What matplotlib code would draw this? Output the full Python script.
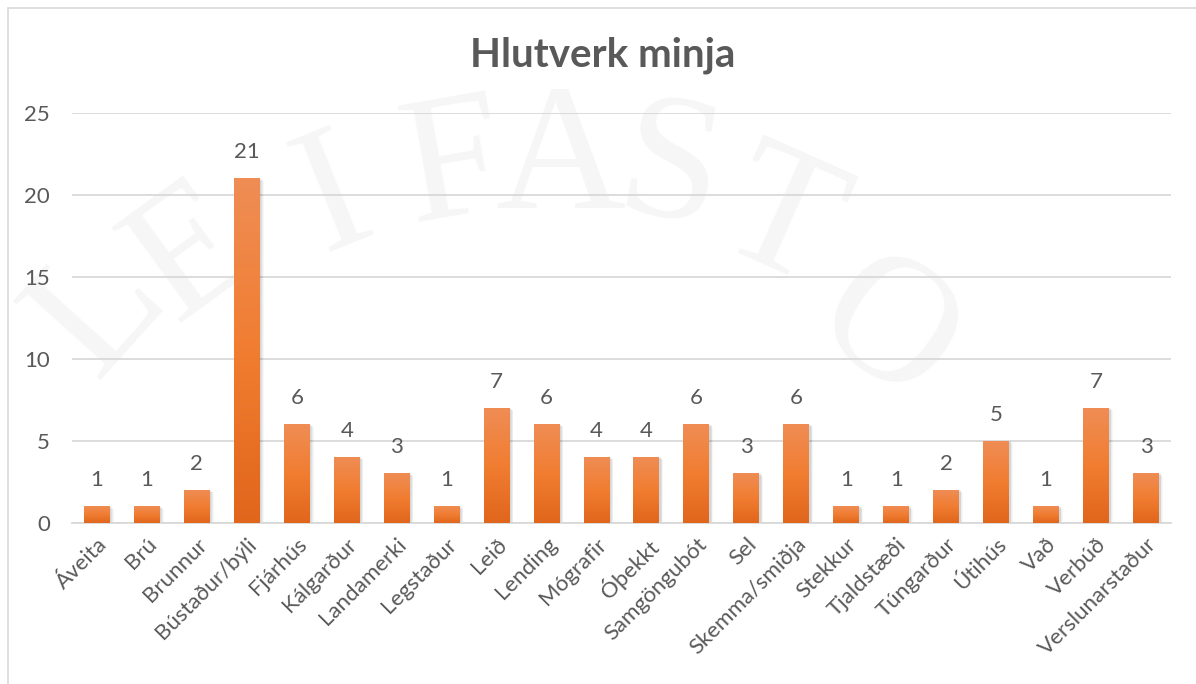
"""Bar chart of site functions (Hlutverk minja) with gradient orange bars."""

import matplotlib
matplotlib.use('Agg')
import matplotlib.pyplot as plt
from matplotlib.patches import Rectangle
import numpy as np

categories = ['Áveita', 'Brú', 'Brunnur', 'Bústaður/býli', 'Fjárhús',
              'Kálgarður', 'Landamerki', 'Legstaður', 'Leið', 'Lending',
              'Mógrafir', 'Óþekkt', 'Samgöngubót', 'Sel', 'Skemma/smiðja',
              'Stekkur', 'Tjaldstæði', 'Túngarður', 'Útihús', 'Vað',
              'Verbúð', 'Verslunarstaður']
counts = [1, 1, 2, 21, 6, 4, 3, 1, 7, 6, 4, 4, 6, 3, 6, 1, 1, 2, 5, 1, 7, 3]
y_ticks = [0, 5, 10, 15, 20, 25]

# faint background letters: (letter, x px, y px, rotation)
wm_letters = [('L', 100, 310, 48), ('E', 195, 255, 36), ('I', 335, 200, 22),
              ('F', 455, 170, 10), ('A', 560, 165, 0), ('S', 670, 175, -10),
              ('T', 780, 225, -24), ('O', 885, 335, -36)]

TEXT = '#595959'
GRID = '#d9d9d9'
FONT = 'Lato'

W, H = 1196, 684
fig = plt.figure(figsize=(W / 100, H / 100), dpi=100)
fig.patch.set_facecolor('white')

for ch, px, py, rot in wm_letters:
    fig.text(px / W, 1 - py / H, ch, ha='center', va='center', rotation=rot,
             fontsize=130, family='Liberation Serif', color='#f6f6f6',
             zorder=-1)

# chart frame (only top and left edges fall inside the image)
fig.add_artist(Rectangle((8 / W, -0.1), 1.2, 1.1 - 8 / H,
                         transform=fig.transFigure, fill=False,
                         edgecolor=GRID, lw=1.2, zorder=-0.5))

ax = fig.add_axes([72 / W, 161 / H, (1171 - 72) / W, 410 / H])
ax.set_facecolor('none')

x = np.arange(len(categories))
bar_w = 0.52

# vertical gradient: lighter orange at top, deeper at the bottom
grad = np.linspace(0, 1, 256).reshape(-1, 1)
top = np.array([0.937, 0.553, 0.333])
mid = np.array([0.945, 0.490, 0.192])
bot = np.array([0.878, 0.400, 0.110])
cols = np.where(grad[..., None] < 0.5,
                top + (mid - top) * (grad[..., None] / 0.5),
                mid + (bot - mid) * ((grad[..., None] - 0.5) / 0.5))

for xi, v in zip(x, counts):
    x0 = xi - bar_w / 2
    # soft shadow
    for k, a in enumerate([0.05, 0.05, 0.04, 0.03]):
        off = 0.02 + 0.015 * k
        ax.add_patch(Rectangle((x0 + off, 0), bar_w + 0.01, v - 0.04 * k,
                               facecolor='black', alpha=a, lw=0, zorder=2))
    ax.imshow(cols, extent=[x0, x0 + bar_w, 0, v], aspect='auto',
              interpolation='bilinear', zorder=3)
    ax.text(xi, v + 1.0, str(v), ha='center', va='bottom', fontsize=16,
            color=TEXT, family=FONT)

ax.set_xlim(-0.5, len(categories) - 0.5)
ax.set_ylim(0, 25)
ax.set_yticks(y_ticks)
ax.set_yticklabels([str(t) for t in y_ticks], fontsize=16, color=TEXT,
                   family=FONT)
ax.set_xticks(x)
ax.set_xticklabels(categories, rotation=45, ha='right',
                   rotation_mode='anchor', fontsize=16, color=TEXT,
                   family=FONT)
ax.tick_params(axis='both', length=0)
ax.tick_params(axis='y', pad=16)
ax.tick_params(axis='x', pad=8)

ax.grid(axis='y', color=GRID, lw=1.3, zorder=1)
ax.set_axisbelow(True)
for side in ['top', 'right', 'left']:
    ax.spines[side].set_visible(False)
ax.spines['bottom'].set_color(GRID)
ax.spines['bottom'].set_linewidth(1.3)

fig.text(603 / W, 1 - 55 / H, 'Hlutverk minja', ha='center', va='center',
         fontsize=29, fontweight='bold', color=TEXT, family=FONT)

fig.savefig('out.png', dpi=100)
